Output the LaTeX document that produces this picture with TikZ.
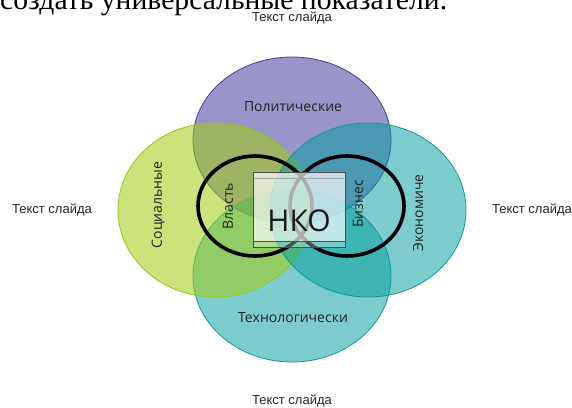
\documentclass[tikz,border=0pt]{standalone}
\usepackage{fontspec}
\setmainfont{Open Sans}
\newfontfamily\arialf{Liberation Sans}
\newfontfamily\timesf{Liberation Serif}
\definecolor{polfill}{RGB}{60,52,152}
\definecolor{poldraw}{RGB}{70,60,150}
\definecolor{socfill}{RGB}{163,205,18}
\definecolor{socdraw}{RGB}{150,200,20}
\definecolor{ecofill}{RGB}{6,158,160}
\definecolor{ecodraw}{RGB}{20,150,155}
\definecolor{labtext}{RGB}{35,35,35}
\begin{document}
\begin{tikzpicture}[x=1pt,y=-1pt,
  petal/.style={line width=0.8pt, fill opacity=0.52},
  ring/.style={line width=3.6pt, black},
  slidetext/.style={font=\arialf\fontsize{13}{15}\selectfont, text=black!85, inner sep=0},
  lab/.style={font=\fontsize{14}{16}\selectfont, text=labtext, inner sep=0},
  vlab/.style={lab, rotate=90}]
\useasboundingbox (0,0) rectangle (572,407);
\fill[white] (0,0) rectangle (572,407);
% cut-off heading line
\node[anchor=base west, inner sep=0] (head) at (0,9.5)
  {\resizebox{447pt}{!}{\timesf создать универсальные показатели.}};
% four petals
\draw[petal, fill=polfill, draw=poldraw] (292,140) ellipse [x radius=99pt, y radius=83pt];
\draw[petal, fill=ecofill, draw=ecodraw] (292,276) ellipse [x radius=99pt, y radius=86pt];
\draw[petal, fill=socfill, draw=socdraw, fill opacity=0.55] (215,210) ellipse [x radius=97pt, y radius=87pt];
\draw[petal, fill=ecofill, draw=ecodraw] (368,210) ellipse [x radius=98pt, y radius=87pt];
% rings
\draw[ring] (255,206) ellipse [x radius=57pt, y radius=50pt];
\draw[ring] (347,206) ellipse [x radius=57pt, y radius=50pt];
% central box
\fill[white, fill opacity=0.3] (253,241) rectangle (345,247);
\draw[black!70, line width=0.8pt] (253,241) rectangle (345,247);
\fill[white, fill opacity=0.68] (253,172) rectangle (345,241);
\draw[black!70, line width=0.8pt] (253,172) rectangle (345,241);
\draw[black!35, line width=0.8pt] (254,178.5) -- (344,178.5);
\node[font=\fontsize{30}{34}\selectfont, text=black!90, inner sep=0] (nko) at (299,221) {НКО};
% labels
\node[lab] (pol) at (293,107) {Политические};
\node[lab] (tec) at (293,318) {Технологически};
\node[vlab] (soc) at (158,205) {Социальные};
\node[vlab] (eco) at (418,213) {Экономиче};
\node[vlab] (vla) at (228,206) {Власть};
\node[vlab] (biz) at (358,204) {Бизнес};
% slide texts
\node[slidetext] (tt) at (292,18) {Текст слайда};
\node[slidetext] (tl) at (52,210) {Текст слайда};
\node[slidetext] (tr) at (532,210) {Текст слайда};
\node[slidetext] (tb) at (292,401) {Текст слайда};
\end{tikzpicture}
\end{document}
